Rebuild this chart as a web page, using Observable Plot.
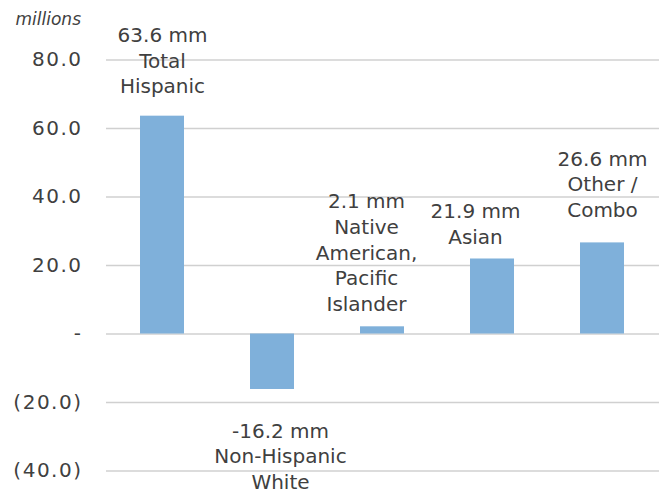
<!DOCTYPE html>
<html>
<head>
<meta charset="utf-8">
<script src="https://cdn.jsdelivr.net/npm/d3@7"></script>
<script src="https://cdn.jsdelivr.net/npm/@observablehq/plot@0.6"></script>
<style>
  body { margin: 0; background: #fff; }
  #chart { width: 664px; height: 493px; }
  g[aria-label="y-axis tick label"] text { letter-spacing: 1.5px; }
</style>
</head>
<body>
<div id="chart"></div>
<script>
const categories = ["Total Hispanic", "Non-Hispanic White", "Native American, Pacific Islander", "Asian", "Other / Combo"];
const values = [63.6, -16.2, 2.1, 21.9, 26.6];
const labels = [
  "63.6 mm\nTotal\nHispanic",
  "-16.2 mm\nNon-Hispanic\nWhite",
  "2.1 mm\nNative\nAmerican,\nPacific\nIslander",
  "21.9 mm\nAsian",
  "26.6 mm\nOther /\nCombo"
];
const yTicks = [-40, -20, 0, 20, 40, 60, 80];
const unitLabel = "millions";

const data = categories.map((c, i) => ({ cat: c, value: values[i], label: labels[i] }));
const fmt = v => v === 0 ? "-" : v < 0 ? `(${(-v).toFixed(1)})` : v.toFixed(1);
const font = "'DejaVu Sans', sans-serif";
const ink = "#404040";

// label placement tweaks (styling, not data)
const labelNudge = {
  "Total Hispanic": [0, -23],
  "Non-Hispanic White": [8, 30],
  "Native American, Pacific Islander": [-16, -16],
  "Asian": [-17, -15],
  "Other / Combo": [0, -26]
};

const labelMarks = data.map(d => Plot.text([d], {
  x: "cat", y: "value", text: "label",
  lineAnchor: d.value < 0 ? "top" : "bottom",
  dx: labelNudge[d.cat][0], dy: labelNudge[d.cat][1],
  fontSize: 20, lineHeight: 1.28, fill: ink
}));

const chart = Plot.plot({
  width: 664,
  height: 493,
  marginLeft: 106,
  marginRight: 5,
  marginTop: 59.5,
  marginBottom: 22.5,
  style: { fontFamily: font, fontSize: "20px", color: ink, background: "#fff" },
  x: { domain: categories, paddingInner: 0.6, paddingOuter: 0.3, axis: null },
  y: { domain: [-40, 80], ticks: yTicks, tickFormat: fmt, tickSize: 0, tickPadding: 24, label: null },
  marks: [
    Plot.ruleY(yTicks, { stroke: "#d0d0d0", strokeWidth: 1.3 }),
    Plot.barY(data, { x: "cat", y: "value", fill: "#7fb0da" }),
    ...labelMarks,
    Plot.text([unitLabel], {
      frameAnchor: "top-left", dx: -91, dy: -47, textAnchor: "start",
      fontStyle: "italic", fontSize: 17, fill: ink
    })
  ]
});
document.getElementById("chart").appendChild(chart);
</script>
</body>
</html>
